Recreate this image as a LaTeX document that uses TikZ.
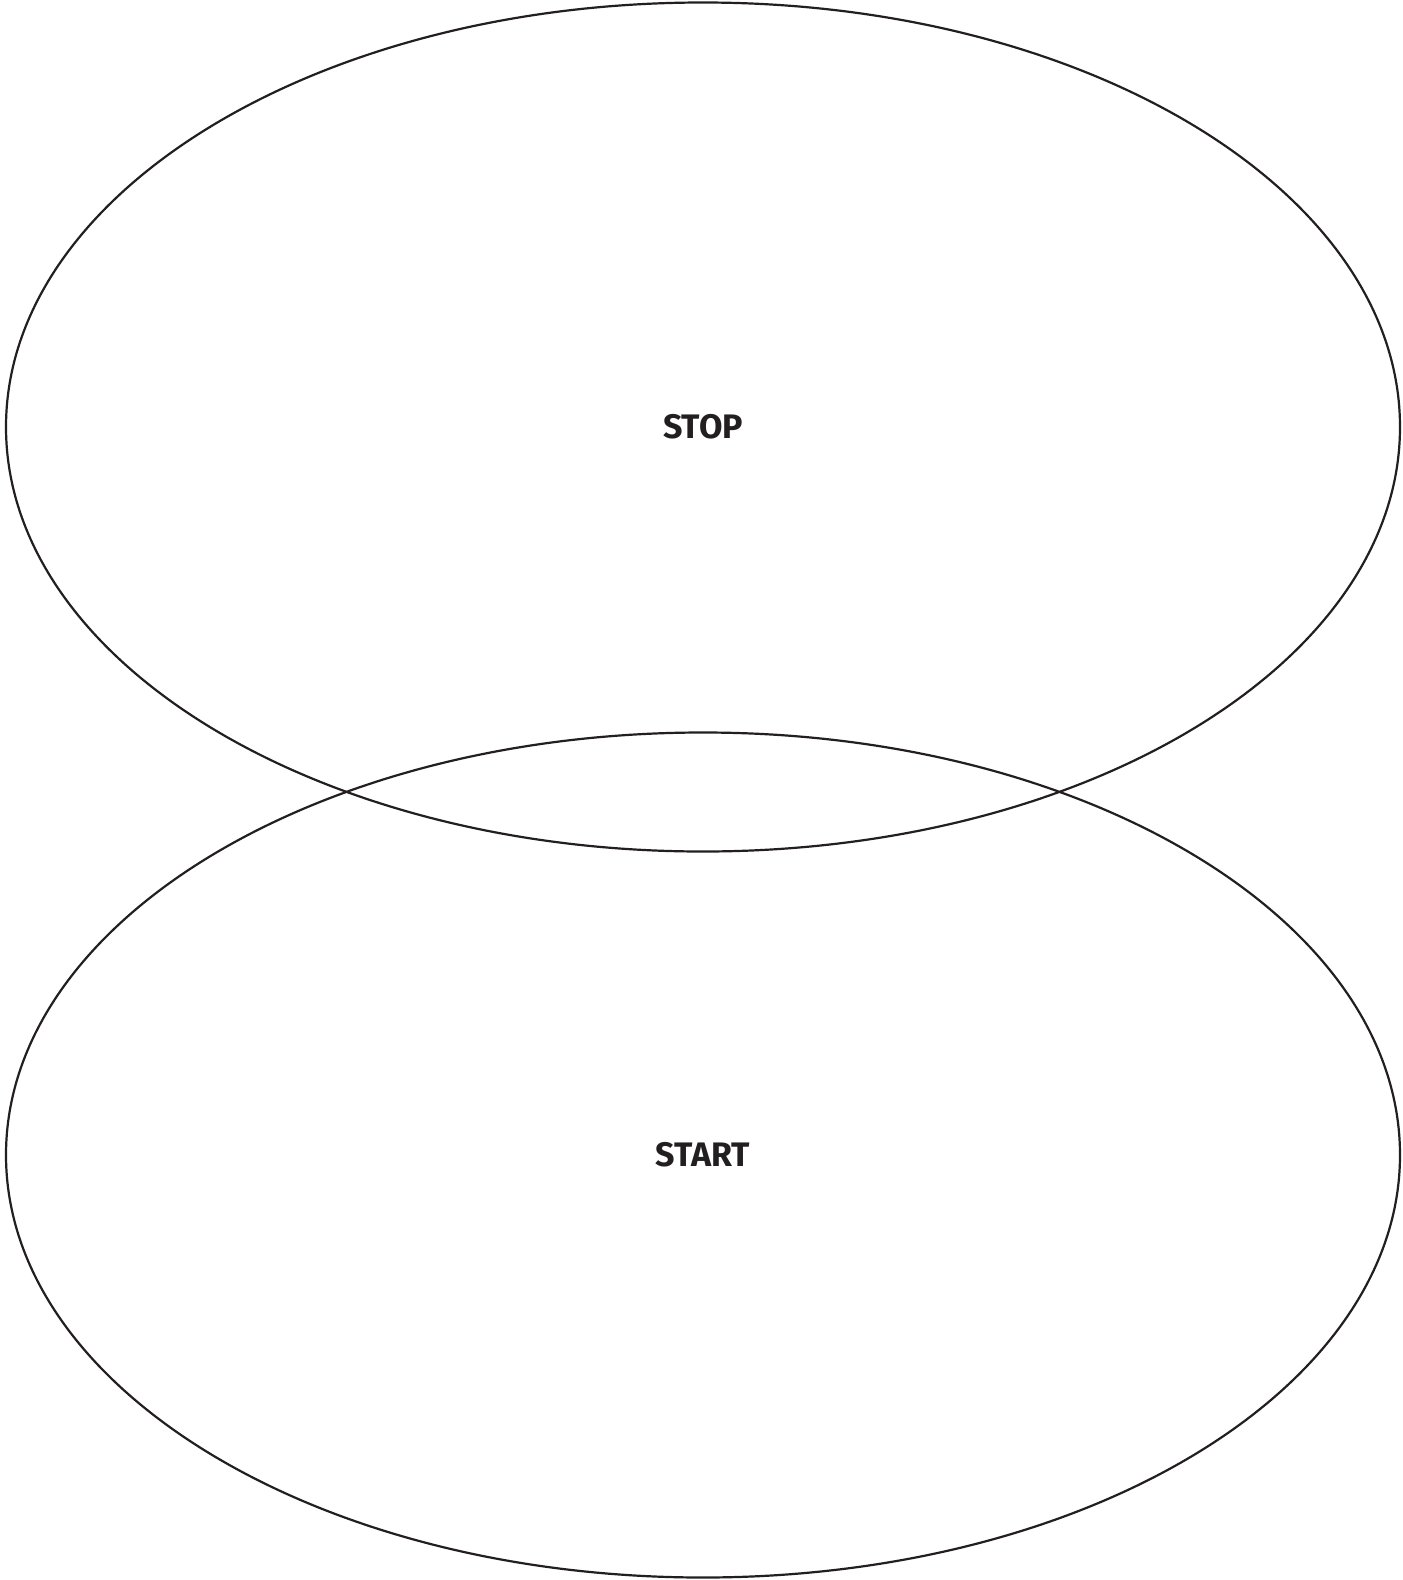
\documentclass[tikz,border=0pt]{standalone}
\usepackage{fontspec}
\setmainfont{Fira Sans}
\usetikzlibrary{shapes.geometric}
\definecolor{ink}{HTML}{231F20}
\begin{document}
\begin{tikzpicture}[x=1pt,y=-1pt,
  oval/.style={ellipse,draw=ink,line width=2.2pt,inner sep=0pt,outer sep=0pt},
  lbl/.style={font=\fontsize{34}{40}\selectfont\bfseries,text=ink}]
\useasboundingbox[fill=white] (0,0) rectangle (1403,1580);
\node[oval,minimum width=1394pt,minimum height=849pt] (stop) at (703,427) {};
\node[oval,minimum width=1394pt,minimum height=845pt] (start) at (703,1155) {};
\node[lbl] (stoplbl) at (stop.center) {STOP};
\node[lbl] (startlbl) at (start.center) {START};
\end{tikzpicture}
\end{document}
